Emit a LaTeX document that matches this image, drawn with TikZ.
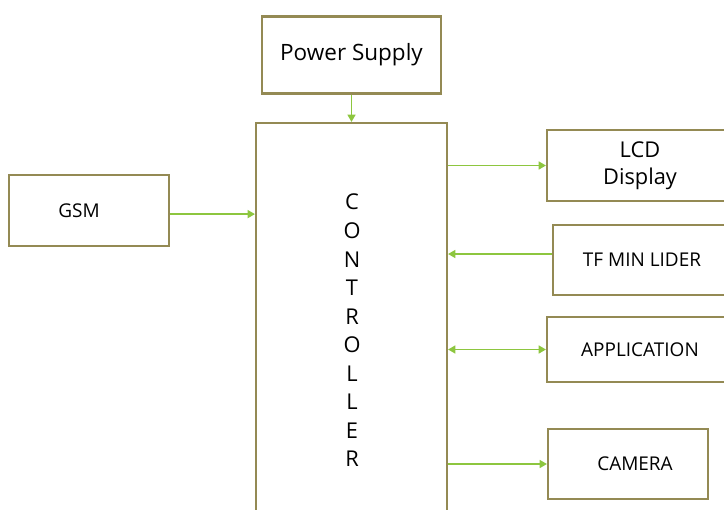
\documentclass[tikz,border=0pt]{standalone}
\usepackage{fontspec}
\setmainfont{Open Sans}
\usepackage{tikz}
\usetikzlibrary{arrows.meta,positioning}
\definecolor{boxline}{HTML}{948A54}
\definecolor{wire}{HTML}{8DC63F}

\begin{document}
\begin{tikzpicture}[x=0.025cm, y=-0.025cm,
                    >={Triangle[length=0.18cm,width=0.2cm]},
                    blk/.style={draw=boxline, line width=1.5pt, inner sep=0pt,
                                align=center, font=\fontsize{13.5}{17}\selectfont},
                    link/.style={draw=wire, line width=0.9pt}]
\useasboundingbox (0,0) rectangle (724,509);
\clip (0,0) rectangle (724,509);
\node[blk, minimum width=4.475cm, minimum height=1.925cm,
      font=\fontsize{16}{19}\selectfont] (PS) at (351.5,55) {Power Supply};
\node[blk, minimum width=4.775cm, minimum height=10.75cm] (CTRL) at (351.5,338) {};
\node[align=center, font=\fontsize{15.5}{20.3}\selectfont] (CTRLt) at (352,330.5)
  {C\\O\\N\\T\\R\\O\\L\\L\\E\\R};
\node[blk, minimum width=4cm, minimum height=1.775cm] (GSM) at (89,210.5)
  {GSM\hspace*{0.5cm}};
\node[blk, minimum width=4.65cm, minimum height=1.775cm,
      font=\fontsize{15.5}{19.5}\selectfont] (LCD) at (640,165.5) {LCD\\Display};
\node[blk, minimum width=4.45cm, minimum height=1.75cm] (TF) at (642,260) {TF MIN LIDER};
\node[blk, minimum width=4.65cm, minimum height=1.625cm] (APP) at (640,349.5) {APPLICATION};
\node[blk, minimum width=4cm, minimum height=1.75cm] (CAM) at (628,464)
  {\hspace*{0.35cm}CAMERA};
\draw[link,->] (PS) -- (CTRL);
\draw[link,->] ([yshift=-0.09cm]GSM.east) -- ([yshift=-0.09cm]GSM.east -| CTRL.west);
\draw[link,->] (LCD.west -| CTRL.east) -- (LCD.west);
\draw[link,->] ([yshift=0.15cm]TF.west) -- ([yshift=0.15cm]TF.west -| CTRL.east);
\draw[link,<->] (APP.west -| CTRL.east) -- (APP.west);
\draw[link,->] (CAM.west -| CTRL.east) -- (CAM.west);
\end{tikzpicture}
\end{document}
